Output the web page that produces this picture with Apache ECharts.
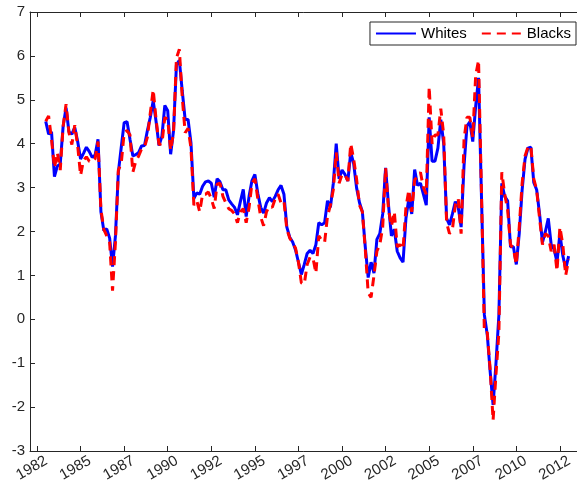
<!DOCTYPE html>
<html><head><meta charset="utf-8">
<script src="https://cdn.jsdelivr.net/npm/echarts@6/dist/echarts.min.js"></script>
<style>html,body{margin:0;padding:0;background:#fff}#c{width:577px;height:488px}</style>
</head><body><div id="c"></div>
<script>
// Tick positions (decimal years) and their printed labels
const tickYears = [1982.5, 1985, 1987.5, 1990, 1992.5, 1995, 1997.5, 2000, 2002.5, 2005, 2007.5, 2010, 2012.5];
const tickLabels = ['1982','1985','1987','1990','1992','1995','1997','2000','2002','2005','2007','2010','2012'];

// Sampled every 2 months starting January 1983
const startYear = 1983;
const stepMonths = 2;

const whites = [
4.51, 4.22, 4.27, 3.25, 3.49, 3.54, 4.40, 4.82, 4.27, 4.22,
4.37, 4.05, 3.65, 3.78, 3.92, 3.82, 3.69, 3.74, 4.10, 2.45,
2.02, 2.06, 1.85, 1.20, 1.90, 3.35, 3.92, 4.48, 4.50, 4.10,
3.72, 3.75, 3.80, 3.95, 3.96, 4.30, 4.60, 4.98, 4.50, 3.96,
4.17, 4.87, 4.75, 3.76, 4.30, 5.80, 5.90, 5.20, 4.55, 4.55,
4.02, 2.75, 2.88, 2.85, 3.03, 3.13, 3.15, 3.10, 2.78, 3.20,
3.13, 2.95, 2.95, 2.72, 2.63, 2.55, 2.38, 2.68, 2.96, 2.34,
2.80, 3.16, 3.30, 2.87, 2.55, 2.42, 2.65, 2.77, 2.68, 2.80,
2.95, 3.05, 2.85, 2.10, 1.87, 1.76, 1.58, 1.30, 1.02, 1.25,
1.50, 1.57, 1.50, 1.70, 2.20, 2.15, 2.20, 2.70, 2.55, 3.10,
4.00, 3.20, 3.40, 3.30, 3.15, 3.80, 3.55, 3.00, 2.66, 2.45,
1.65, 0.95, 1.30, 1.05, 1.82, 1.95, 2.40, 3.45, 2.60, 1.90,
2.05, 1.55, 1.40, 1.30, 2.30, 2.75, 2.40, 3.41, 3.05, 3.10,
2.85, 2.60, 4.60, 3.60, 3.60, 3.90, 4.55, 4.00, 2.30, 2.15,
2.40, 2.68, 2.55, 2.10, 3.50, 4.40, 4.50, 4.05, 4.85, 5.50,
2.80, 0.10, -0.35, -1.20, -1.95, -1.00, 0.10, 3.10, 2.80, 2.70,
1.65, 1.65, 1.25, 1.95, 2.95, 3.65, 3.90, 3.92, 3.12, 2.95,
2.40, 1.75, 2.00, 2.30, 1.70, 1.60, 1.30, 1.95, 1.45, 1.15,
1.44
];

const blacks = [
4.51, 4.63, 4.10, 3.45, 3.80, 3.40, 4.40, 4.90, 4.25, 3.98,
4.42, 3.95, 3.28, 3.62, 3.70, 3.60, 3.58, 3.66, 4.05, 2.50,
2.05, 1.90, 1.75, 0.65, 1.75, 3.40, 3.55, 4.25, 4.30, 4.20,
3.35, 3.60, 3.72, 3.88, 3.92, 4.15, 4.70, 5.23, 4.55, 3.98,
4.00, 4.60, 4.55, 3.85, 4.25, 5.95, 6.15, 5.05, 4.25, 4.35,
3.90, 2.60, 2.70, 2.45, 2.85, 2.85, 2.90, 2.75, 2.52, 3.08,
3.10, 2.80, 2.65, 2.52, 2.48, 2.40, 2.20, 2.45, 2.52, 2.20,
2.55, 3.10, 3.20, 2.75, 2.33, 2.13, 2.45, 2.58, 2.55, 2.75,
2.85, 2.65, 2.70, 2.05, 1.85, 1.75, 1.62, 1.30, 0.83, 0.80,
1.25, 1.42, 1.40, 1.05, 1.90, 1.80, 1.75, 2.35, 2.60, 2.95,
3.80, 3.10, 3.30, 3.30, 3.15, 4.00, 3.65, 3.20, 2.60, 2.45,
1.60, 0.60, 0.50, 1.00, 1.55, 1.70, 2.10, 3.45, 2.50, 2.12,
2.45, 1.65, 1.70, 1.60, 2.55, 2.95, 2.45, 3.18, 3.25, 3.35,
3.00, 2.85, 5.30, 4.00, 4.20, 4.20, 4.80, 4.20, 2.20, 1.95,
2.05, 2.60, 2.75, 1.95, 4.10, 4.60, 4.60, 4.15, 5.55, 5.90,
2.90, -0.30, -0.30, -1.15, -2.30, -1.25, -0.30, 3.35, 2.85, 2.50,
1.70, 1.60, 1.25, 2.10, 3.10, 3.72, 3.92, 3.95, 3.20, 2.95,
2.30, 1.70, 1.95, 1.90, 1.55, 1.70, 1.10, 2.10, 1.70, 1.00,
1.36
];

const dates = whites.map((_, i) => startYear + (i * stepMonths) / 12);

const FONT = '"Liberation Sans", Arial, Helvetica, sans-serif';
const AX = '#262626';

const chart = echarts.init(document.getElementById('c'), null, {renderer: 'canvas'});
const xMin = 1982.098, xMax = 2013.94;
const labelFor = v => {
  const i = tickYears.findIndex(t => Math.abs(t - v) < 1e-6);
  return i >= 0 ? tickLabels[i] : '';
};
chart.setOption({
  animation: false,
  backgroundColor: '#fff',
  grid: {left: 30, top: 12, width: 555, height: 439, outerBoundsMode: 'none', containLabel: false},
  legend: {
    data: ['Whites', 'Blacks'],
    right: 1, top: 22,
    itemWidth: 40, itemHeight: 14, itemGap: 14,
    padding: [4, 5, 4, 5],
    borderColor: AX, borderWidth: 1, backgroundColor: '#fff',
    itemStyle: {opacity: 0},
    textStyle: {fontSize: 15, color: '#000', fontFamily: FONT}
  },
  xAxis: [{
    type: 'value', position: 'bottom', min: xMin, max: xMax,
    axisLine: {show: true, onZero: false, lineStyle: {color: AX, width: 1}},
    axisTick: {show: true, inside: true, length: 5, customValues: tickYears, lineStyle: {color: AX}},
    axisLabel: {customValues: tickYears, formatter: labelFor, rotate: 30, fontSize: 15, color: AX, fontFamily: FONT,
      align: 'center', verticalAlign: 'middle', padding: [0, 12, 0, 0], margin: 14},
    splitLine: {show: false}
  }, {
    type: 'value', position: 'top', min: xMin, max: xMax,
    axisLine: {show: true, onZero: false, lineStyle: {color: AX, width: 1}},
    axisTick: {show: true, inside: true, length: 5, customValues: tickYears, lineStyle: {color: AX}},
    axisLabel: {show: false},
    splitLine: {show: false}
  }],
  yAxis: [{
    type: 'value', min: -3, max: 7, interval: 1, position: 'left',
    axisLine: {show: true, onZero: false, lineStyle: {color: AX, width: 1}},
    axisTick: {show: true, inside: true, length: 5, lineStyle: {color: AX}},
    axisLabel: {fontSize: 15, color: AX, fontFamily: FONT, margin: 5},
    splitLine: {show: false}
  }, {
    type: 'value', min: -3, max: 7, interval: 1, position: 'right',
    axisLine: {show: true, onZero: false, lineStyle: {color: AX, width: 1}},
    axisTick: {show: true, inside: true, length: 5, lineStyle: {color: AX}},
    axisLabel: {show: false},
    splitLine: {show: false}
  }],
  series: [{
    name: 'Whites', type: 'line', xAxisIndex: 0, yAxisIndex: 0,
    data: dates.map((t, i) => [t, whites[i]]),
    symbol: 'none', showSymbol: false,
    lineStyle: {color: '#0000ff', width: 3},
    itemStyle: {color: '#0000ff'}
  }, {
    name: 'Blacks', type: 'line', xAxisIndex: 0, yAxisIndex: 0,
    data: dates.map((t, i) => [t, blacks[i]]),
    symbol: 'none', showSymbol: false,
    lineStyle: {color: '#ff0000', width: 3, type: [9, 6]},
    itemStyle: {color: '#ff0000'}
  }]
});
</script></body></html>
